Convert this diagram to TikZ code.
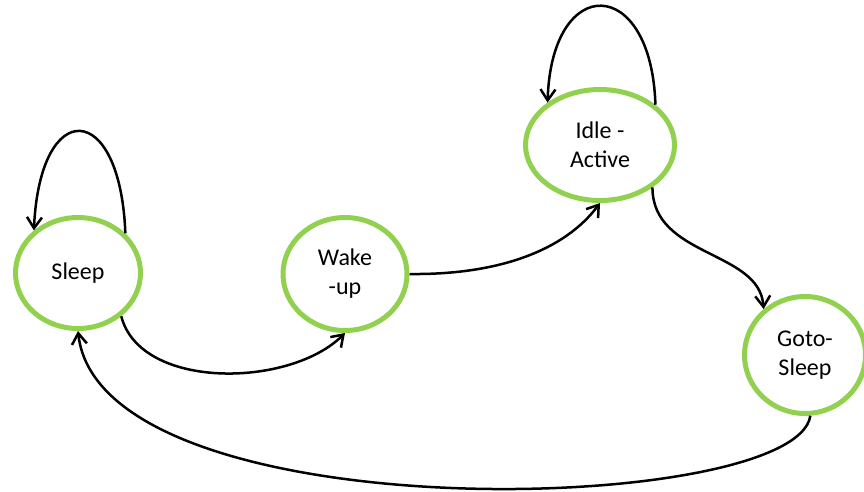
\documentclass[tikz,border=0pt]{standalone}
\usepackage{fontspec}
\setmainfont{Carlito}
\usetikzlibrary{shapes.geometric,arrows.meta}
\definecolor{ringgreen}{RGB}{146,208,80}
\begin{document}
\begin{tikzpicture}[x=1pt,y=-1pt,
  state/.style={ellipse,draw=ringgreen,line width=5pt,inner sep=0pt,align=center,
    font=\fontsize{24}{29}\selectfont},
  link/.style={-{Straight Barb[length=11pt,width=15pt]},line width=2.5pt}]
  \useasboundingbox (0,0) rectangle (864,491);
  \node[state,minimum width=125pt,minimum height=111pt] (sleep) at (78,273) {Sleep};
  \node[state,minimum width=124pt,minimum height=113pt] (wake) at (345,274) {Wake\\-up};
  \node[state,minimum width=149pt,minimum height=111pt] (idle) at (600,145) {Idle -\\Active};
  \node[state,minimum width=121pt,minimum height=117pt] (goto) at (805,355) {Goto-\\Sleep};
  \draw[link] (sleep.40) .. controls +(-5,-134) and +(6,-134) .. (sleep.136);
  \draw[link] (idle.36) .. controls +(-4,-130) and +(4,-130) .. (idle.141);
  \draw[link] (sleep.-45) .. controls +(19,74) and +(-55,55) .. (wake.south);
  \draw[link] (wake.east) .. controls +(90,1) and +(-35,47) .. (idle.south);
  \draw[link] (idle.-39) .. controls +(0,70) and +(-4,-59) .. (goto.132);
  \draw[link] (goto.-85) .. controls +(-14,100) and +(22,204) .. (sleep.south);
\end{tikzpicture}
\end{document}
